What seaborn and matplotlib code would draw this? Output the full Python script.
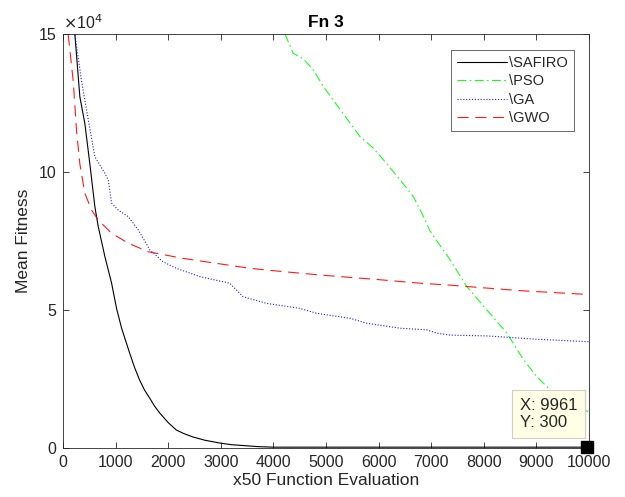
import numpy as np
import pandas as pd
import matplotlib
matplotlib.use('Agg')
import matplotlib.pyplot as plt
import seaborn as sns

sns.set_style('white')
plt.rcParams['font.family'] = ['Liberation Sans', 'DejaVu Sans']

# Data (mean fitness in units of 1e4)
safiro_x = [150, 225, 320, 415, 510, 606, 670, 797, 924, 1019, 1114, 1267, 1360, 1457,
            1550, 1650, 1740, 1838, 2000, 2155, 2300, 2470, 2700, 2980, 3200, 3490,
            3700, 4000, 5000, 6000, 8000, 9961]
safiro_y = [17.5, 15.0, 12.73, 11.76, 10.3, 8.74, 8.02, 6.93, 5.97, 5.05, 4.34, 3.44,
            2.92, 2.46, 2.1, 1.8, 1.52, 1.27, 0.92, 0.65, 0.52, 0.40, 0.28, 0.18,
            0.12, 0.08, 0.05, 0.03, 0.03, 0.03, 0.03, 0.03]

pso_x = [4220, 4378, 4568, 4759, 4949, 5140, 5394, 5648, 5902, 6156, 6410, 6663,
         6854, 6981, 7362, 7680, 8060, 8440, 8757, 9010, 9264, 9600, 10000]
pso_y = [15.0, 14.3, 14.1, 13.7, 13.1, 12.6, 11.94, 11.28, 10.86, 10.3, 9.71, 9.1,
         8.38, 7.85, 6.81, 5.84, 5.0, 4.16, 3.19, 2.58, 2.1, 1.7, 1.3]

ga_x = [180, 225, 352, 480, 606, 797, 860, 924, 1051, 1242, 1432, 1654, 1900, 2155,
        2600, 3170, 3425, 3870, 4505, 4822, 5457, 5775, 6410, 6917, 7108, 7362,
        8060, 9010, 10000]
ga_y = [16.0, 15.0, 13.3, 11.9, 10.55, 9.95, 9.71, 8.87, 8.62, 8.38, 7.9, 7.17, 6.75,
        6.51, 6.21, 5.97, 5.48, 5.24, 5.06, 4.88, 4.70, 4.52, 4.34, 4.28, 4.16,
        4.09, 4.06, 3.94, 3.85]

gwo_x = [60, 98, 194, 257, 320, 415, 543, 670, 924, 1242, 1622, 2282, 2917, 3552,
         4187, 5000, 6000, 6790, 7362, 7680, 8700, 10000]
gwo_y = [16.5, 15.0, 13.3, 11.5, 10.3, 9.23, 8.62, 8.26, 7.78, 7.42, 7.11, 6.87, 6.69,
         6.51, 6.39, 6.25, 6.1, 5.97, 5.9, 5.85, 5.70, 5.56]

names = ['\\SAFIRO', '\\PSO', '\\GA', '\\GWO']
xs = [safiro_x, pso_x, ga_x, gwo_x]
ys = [safiro_y, pso_y, ga_y, gwo_y]
colors = ['#000000', '#00FF00', '#0000FF', '#FF0000']
styles = ['-', (0, (8, 3, 1.5, 3)), (0, (1, 1.6)), (0, (10, 6))]

fig = plt.figure(figsize=(6.25, 4.97), dpi=100)
ax = fig.add_axes([0.1008, 0.0986, 0.8416, 0.833])

for name, x, y, c, ls in zip(names, xs, ys, colors, styles):
    df = pd.DataFrame({'x': x, 'y': y})
    sns.lineplot(data=df, x='x', y='y', ax=ax, color=c, linestyle=ls,
                 linewidth=0.8, label=name, alpha=0.9 if c != '#000000' else 1)

ax.set_xlim(0, 10000)
ax.set_ylim(0, 15)
ax.set_xticks(np.arange(0, 10001, 1000))
ax.set_yticks([0, 5, 10, 15])

tc = '#262626'
for s in ax.spines.values():
    s.set_color(tc)
    s.set_linewidth(0.6)
ax.tick_params(direction='in', length=4, width=0.6, colors=tc, labelsize=11.5,
               top=True, right=True, bottom=True, left=True, pad=5)
ax.set_title('Fn 3', fontsize=12.5, fontweight='bold', color='#000000', pad=5)
ax.set_xlabel('x50 Function Evaluation', fontsize=12.5, color=tc, labelpad=2)
ax.set_ylabel('Mean Fitness', fontsize=12.5, color=tc, labelpad=5)
ax.text(0.0, 1.005, '$\\times$10$^4$', transform=ax.transAxes, fontsize=11.5,
        color=tc, ha='left', va='bottom')

leg = ax.legend(loc='upper right', bbox_to_anchor=(0.9715, 0.961), borderaxespad=0,
                fontsize=10.5, frameon=True, fancybox=False, handlelength=3.4,
                handletextpad=0.2, labelspacing=0.3, borderpad=0.4)
leg.get_frame().set_edgecolor(tc)
leg.get_frame().set_linewidth(0.6)

# data tip
ax.plot([9961], [0.03], marker='s', color='k', markersize=8, clip_on=False, zorder=5)
ax.text(8680, 1.23, 'X: 9961\nY: 300', fontsize=12, color=tc, ha='left',
        va='center', multialignment='left', linespacing=1.2, zorder=6,
        bbox=dict(boxstyle='square,pad=0.45', fc='#FFFFE6', ec='#D0D0C8', lw=0.8))

fig.savefig('out.png', dpi=100)
